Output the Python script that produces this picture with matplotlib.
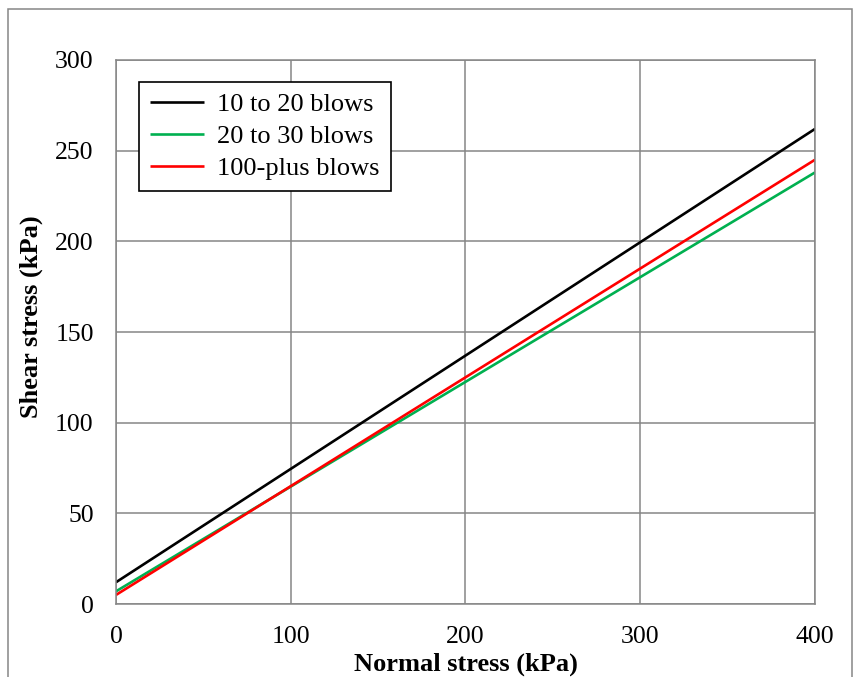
import matplotlib.pyplot as plt
from matplotlib.patches import Rectangle
import numpy as np

plt.rcParams['font.family'] = ['Liberation Serif', 'DejaVu Serif']

normal = np.array([0, 400])
labels = ['10 to 20 blows', '20 to 30 blows', '100-plus blows']
shear = {
    '10 to 20 blows': [12, 262],
    '20 to 30 blows': [7, 238],
    '100-plus blows': [5, 245],
}
colors = ['#000000', '#00b050', '#ff0000']

fig = plt.figure(figsize=(8.61, 6.77), dpi=100)
ax = fig.add_axes([0.1347, 0.1078, 0.8119, 0.8036])

for lab, c in zip(labels, colors):
    ax.plot(normal, shear[lab], color=c, lw=1.9, label=lab, solid_capstyle='butt')

ax.set_xlim(0, 400)
ax.set_ylim(0, 300)
ax.set_xticks([0, 100, 200, 300, 400])
ax.set_yticks([0, 50, 100, 150, 200, 250, 300])
ax.grid(True, color='#868686', lw=1.1)
ax.set_axisbelow(True)
for s in ax.spines.values():
    s.set_color('#868686')
    s.set_linewidth(1.1)
ax.tick_params(length=0, labelsize=18.5)
ax.tick_params(axis='x', pad=16)
ax.tick_params(axis='y', pad=16)

ax.set_xlabel('Normal stress (kPa)', fontsize=19, fontweight='bold', labelpad=3)
ax.set_ylabel('Shear stress (kPa)', fontsize=19, fontweight='bold')
ax.yaxis.set_label_coords(-0.104, 0.529)

leg = ax.legend(loc='upper left', bbox_to_anchor=(0.033, 0.96), borderaxespad=0,
                fontsize=19, fancybox=False, framealpha=1, edgecolor='black',
                handlelength=2.05, handletextpad=0.5, borderpad=0.42, labelspacing=0.32)
leg.get_frame().set_linewidth(1.2)

# outer chart border (bottom edge cut off)
fig.patches.append(Rectangle((8 / 861, -0.05), (852 - 8) / 861, 1.05 - 9 / 677,
                             transform=fig.transFigure, fill=False,
                             edgecolor='#868686', lw=1.1))

fig.savefig('out.png', dpi=100)
